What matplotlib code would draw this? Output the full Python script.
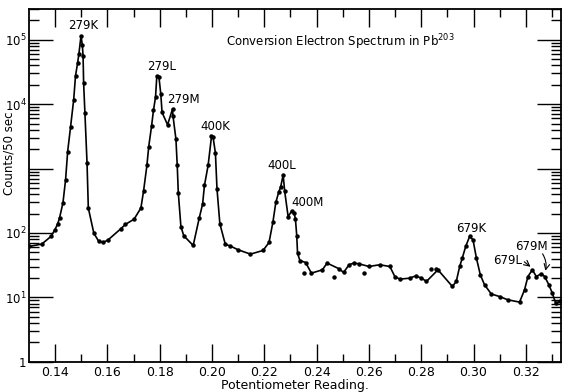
import numpy as np
import matplotlib
matplotlib.use("Agg")
import matplotlib.pyplot as plt
from matplotlib.ticker import FixedLocator, LogLocator, NullFormatter

# potentiometer reading vs counts per 50 sec (points on the drawn curve)
pot = [0.1300, 0.1349, 0.1384, 0.1399, 0.1410, 0.1417, 0.1430, 0.1440, 0.1448, 0.1459,
       0.1471, 0.1478, 0.1486, 0.1491, 0.1499, 0.1504, 0.1507, 0.1509, 0.1514, 0.1522,
       0.1527, 0.1548, 0.1567, 0.1584, 0.1603, 0.1651, 0.1669, 0.1702, 0.1728, 0.1738,
       0.1751, 0.1758, 0.1769, 0.1776, 0.1784, 0.1789, 0.1797, 0.1804, 0.1809, 0.1830,
       0.1849, 0.1851, 0.1862, 0.1867, 0.1871, 0.1881, 0.1892, 0.1928, 0.1951, 0.1964,
       0.1971, 0.1985, 0.1998, 0.2004, 0.2013, 0.2019, 0.2030, 0.2051, 0.2068, 0.2100,
       0.2147, 0.2195, 0.2218, 0.2233, 0.2244, 0.2255, 0.2262, 0.2272, 0.2278, 0.2291,
       0.2304, 0.2314, 0.2319, 0.2324, 0.2327, 0.2336, 0.2358, 0.2380, 0.2422, 0.2440,
       0.2486, 0.2503, 0.2524, 0.2542, 0.2562, 0.2600, 0.2641, 0.2680, 0.2699, 0.2718,
       0.2756, 0.2779, 0.2801, 0.2820, 0.2864, 0.2919, 0.2934, 0.2947, 0.2957, 0.2970,
       0.2985, 0.2998, 0.3011, 0.3026, 0.3042, 0.3068, 0.3100, 0.3131, 0.3176, 0.3195,
       0.3208, 0.3225, 0.3240, 0.3259, 0.3272, 0.3288, 0.3301, 0.3314, 0.3329]
counts = [61.7, 67.3, 88.3, 112, 139, 172, 294, 670, 1840, 4410,
          11700, 27600, 43500, 60600, 115000, 83600, 55000, 21300, 7280, 1240,
          244, 99.6, 73.8, 71.2, 78.4, 116, 136, 164, 244, 441,
          1117, 2200, 4620, 7980, 12900, 27600, 26400, 14500, 7430, 4790,
          8390, 6440, 2870, 1117, 425, 126, 90.5, 64, 170, 281,
          547, 1117, 3150, 3080, 1740, 486, 139, 66.3, 63.3, 54.8,
          47, 53.5, 71.2, 149, 298, 432, 509, 793, 441, 180,
          216, 204, 164, 90.5, 48.7, 37.4, 34.8, 23.8, 26.8, 34.1,
          27.8, 24.4, 32.1, 34.1, 33.2, 30.2, 32.1, 30.2, 21.1, 19.2,
          19.9, 21.6, 19.9, 17.7, 26.8, 14.8, 17.7, 30.2, 40.8, 61.7,
          88.3, 78.4, 40.8, 22.4, 15.7, 11.3, 10.3, 9.18, 8.45, 13.1,
          21.1, 26.8, 21.1, 23.3, 21.1, 15.7, 11.7, 8.16, 8.64]

# scattered points lying off the curve
stray_pot = [0.2351, 0.2466, 0.2580, 0.2839, 0.2856]
stray_counts = [24.1, 20.9, 23.8, 27.5, 27.5]

# peak labels: text, x, y of label centre
peak_names = ["279K", "279L", "279M", "400K", "400L", "400M", "679K", "679L", "679M"]
peak_x = [0.1506, 0.1808, 0.1892, 0.2014, 0.2266, 0.2366, 0.2992, 0.3130, 0.3222]
peak_y = [165000, 38100, 11700, 4460, 1105, 294, 116, 37, 61]

plt.rcParams["font.family"] = "DejaVu Sans"
fig = plt.figure(figsize=(5.62, 3.92), dpi=100)
ax = fig.add_axes([0.052, 0.077, 0.946, 0.9])

ax.plot(pot, counts, "-", color="black", lw=1.2)
ax.plot(pot, counts, "o", color="black", ms=2.2)
ax.plot(stray_pot, stray_counts, "o", color="black", ms=2.2)

for name, x, y in zip(peak_names, peak_x, peak_y):
    ax.text(x, y, name, ha="center", va="center", fontsize=8.5)

# arrows of the 679 L / M labels
ax.annotate("", xy=(0.3218, 29.9), xytext=(0.3194, 35.7),
            arrowprops=dict(arrowstyle="->", lw=0.8, color="black",
                            shrinkA=0, shrinkB=0))
ax.annotate("", xy=(0.3275, 26), xytext=(0.3264, 47.5),
            arrowprops=dict(arrowstyle="->", lw=0.8, color="black",
                            shrinkA=0, shrinkB=0,
                            connectionstyle="arc3,rad=-0.2"))

ax.text(0.2490, 93000, "Conversion Electron Spectrum in Pb$^{203}$",
        ha="center", va="center", fontsize=8.5)

ax.set_yscale("log")
ax.set_xlim(0.1301, 0.3334)
ax.set_ylim(1, 3e5)

ax.xaxis.set_major_locator(FixedLocator([0.14, 0.16, 0.18, 0.20, 0.22, 0.24, 0.26, 0.28, 0.30, 0.32]))
ax.xaxis.set_minor_locator(FixedLocator([0.15, 0.17, 0.19, 0.21, 0.23, 0.25, 0.27, 0.29, 0.31, 0.33]))
ax.set_xticklabels(["0.14", "0.16", "0.18", "0.20", "0.22", "0.24", "0.26", "0.28", "0.30", "0.32"])
ax.yaxis.set_major_locator(FixedLocator([1, 10, 100, 1000, 1e4, 1e5]))
ax.yaxis.set_minor_locator(LogLocator(base=10, subs=np.arange(2, 10), numticks=20))
ax.yaxis.set_minor_formatter(NullFormatter())
# no label at 10^3, the axis title sits there
ax.set_yticklabels(["1", "10$^1$", "10$^2$", "", "10$^4$", "10$^5$"])

ax.tick_params(axis="x", which="major", direction="in", length=13, width=1, top=True,
               labelsize=9, pad=3)
ax.tick_params(axis="x", which="minor", direction="in", length=6, width=1, top=True)
ax.tick_params(axis="y", which="major", direction="in", length=17, width=1, right=True,
               labelsize=8.5, pad=2)
ax.tick_params(axis="y", which="minor", direction="in", length=7, width=1, right=True)
for s in ax.spines.values():
    s.set_linewidth(1.3)

ax.set_xlabel("Potentiometer Reading.", fontsize=9, labelpad=0)
ax.set_ylabel("Counts/50 sec", fontsize=8.5)
ax.yaxis.set_label_coords(-0.026, 0.59)

fig.savefig("out.png", dpi=100)
